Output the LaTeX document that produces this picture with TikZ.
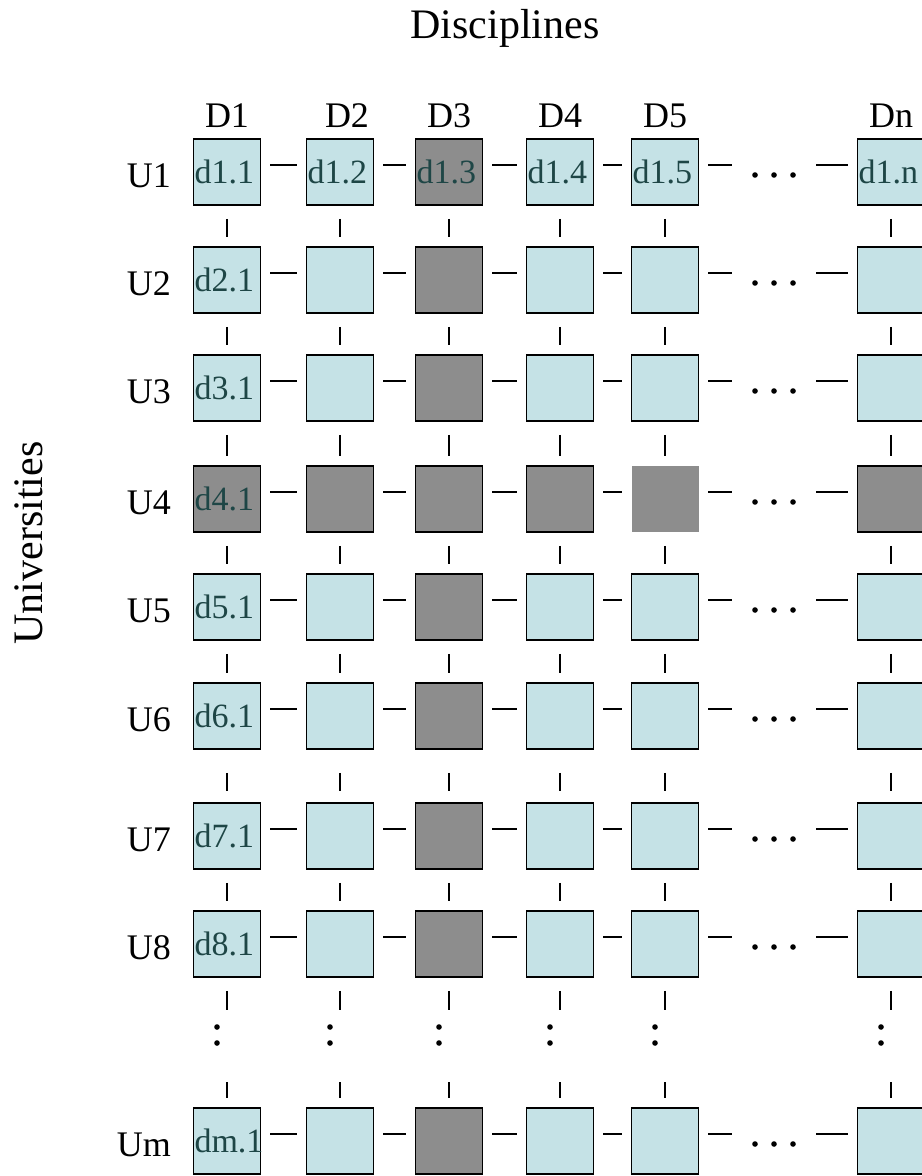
\documentclass[tikz,border=0pt]{standalone}
\usepackage{fontspec}
\setmainfont{Liberation Serif}
\usetikzlibrary{positioning}
\definecolor{cellblue}{HTML}{C5E2E6}
\definecolor{cellgray}{HTML}{8D8D8D}
\definecolor{celltext}{HTML}{1E4646}
\tikzset{
    cell/.style={draw, line width=0.8pt, fill=cellblue, minimum width=33.5pt, minimum height=33pt, inner xsep=0.5pt, inner ysep=0pt, text width=32.5pt, align=left, text=celltext, font=\fontsize{17}{17}\selectfont},
    lab/.style={font=\fontsize{18}{20}\selectfont},
    title/.style={font=\fontsize{21}{24}\selectfont},
    hdots/.style={minimum width=33pt, minimum height=10pt, inner sep=0pt},
    vdots/.style={minimum width=10pt, minimum height=25pt, inner sep=0pt},
    hlink/.style={line width=0.8pt, shorten <=4.5pt, shorten >=4.5pt},
    vlink/.style={line width=0.8pt, shorten <=6.5pt, shorten >=4.5pt}
}
\begin{document}
\begin{tikzpicture}[x=0.5pt, y=-0.5pt]
\useasboundingbox (0,0) rectangle (921,1176);

% axis titles
\node[title] (disc) at (505,28) {Disciplines};
\node[title, rotate=90] (univ) at (29,543) {Universities};

% column heads
\foreach \c/\x in {1/227, 2/347, 3/449, 4/560, 5/665, n/891}
    \node[lab] (head\c) at (\x,116) {D\c};

% row heads
\foreach \r/\y in {1/172, 2/280, 3/388, 4/499, 5/607, 6/716, 7/836, 8/944, m/1141}
    \node[lab, anchor=east] (row\r) at (178,\y+4) {U\r};

% first row: every cell is labelled
\foreach \c/\x/\f in {1/227/cellblue, 2/340/cellblue, 3/449/cellgray, 4/560/cellblue, 5/665/cellblue, n/891/cellblue}
    \node[cell, fill=\f] (c1\c) at (\x,172) {d1.\c};

% other rows: only D1 is labelled
\foreach \r/\y in {2/280, 3/388, 5/607, 6/716, 7/836, 8/944, m/1141} {
    \node[cell] (c\r1) at (227,\y) {d\r.1};
    \foreach \c/\x/\f in {2/340/cellblue, 3/449/cellgray, 4/560/cellblue, 5/665/cellblue, n/891/cellblue}
        \node[cell, fill=\f] (c\r\c) at (\x,\y) {};
}

% U4 is shaded all the way
\node[cell, fill=cellgray] (c41) at (227,499) {d4.1};
\foreach \c/\x in {2/340, 3/449, 4/560, n/891}
    \node[cell, fill=cellgray] (c4\c) at (\x,499) {};
\node[cell, fill=cellgray, draw=none] (c45) at (665,499) {};

% horizontal ellipses
\foreach \r/\y in {1/172, 2/280, 3/388, 4/499, 5/607, 6/716, 7/836, 8/944, m/1141} {
    \node[hdots] (c\r h) at (774,\y) {};
    \foreach \k in {-1,0,1}
        \fill ([xshift=\k*9.5pt, yshift=-1.5pt]c\r h) circle (1.4pt);
    \foreach \a/\b in {1/2, 2/3, 3/4, 4/5, 5/h, h/n}
        \draw[hlink] ([yshift=3.5pt]c\r\a.east) -- ([yshift=3.5pt]c\r\b.west);
}

% vertical ellipses
\foreach \c/\x in {1/227, 2/340, 3/449, 4/560, 5/665, n/891} {
    \node[vdots] (cv\c) at (\x,1044) {};
    \fill ([xshift=-5pt, yshift=8.5pt]cv\c) circle (1.4pt);
    \fill ([xshift=-5pt, yshift=0.5pt]cv\c) circle (1.4pt);
    \foreach \a/\b in {1/2, 2/3, 3/4, 4/5, 5/6, 7/8, 8/v, v/m}
        \draw[vlink] (c\a\c.south) -- (c\b\c.north);
    \draw[vlink, shorten <=11.5pt, shorten >=5.5pt] (c6\c.south) -- (c7\c.north);
}
\end{tikzpicture}
\end{document}
